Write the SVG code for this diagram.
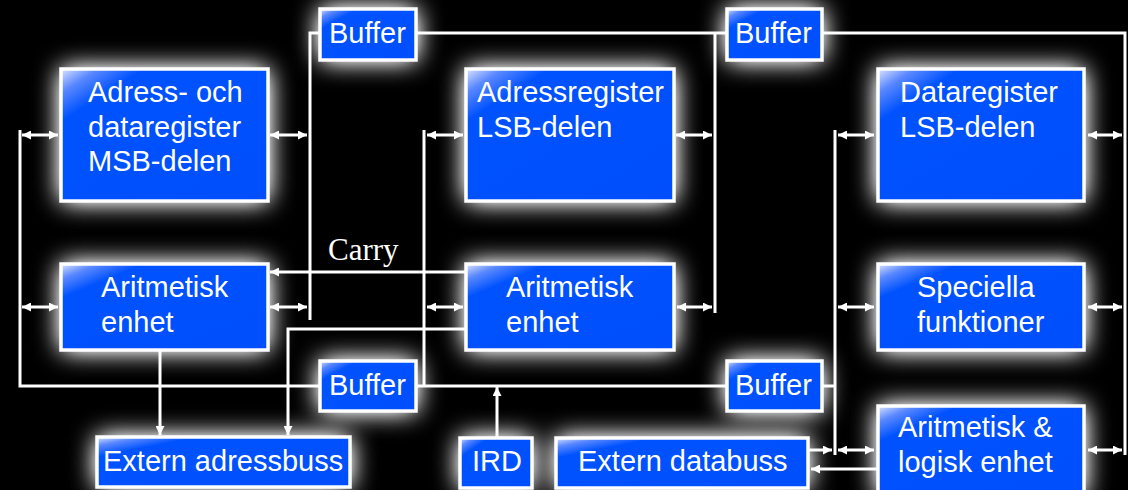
<svg xmlns="http://www.w3.org/2000/svg" width="1128" height="490" viewBox="0 0 1128 490">
  <defs>
    <filter id="glow" x="-60%" y="-100%" width="220%" height="300%">
      <feGaussianBlur stdDeviation="13"/>
      <feComponentTransfer>
        <feFuncA type="linear" slope="1.5"/>
      </feComponentTransfer>
    </filter>
    <linearGradient id="blue" x1="0" y1="0" x2="1" y2="1">
      <stop offset="0" stop-color="#dfe6ff"/>
      <stop offset="0.09" stop-color="#5a88ff"/>
      <stop offset="0.2" stop-color="#0052ff"/>
      <stop offset="1" stop-color="#004efc"/>
    </linearGradient>
    <marker id="ah" viewBox="0 0 9 9" refX="9" refY="4.5" markerWidth="9" markerHeight="9" markerUnits="userSpaceOnUse" orient="auto-start-reverse">
      <path d="M0,0 L9,4.5 L0,9 z" fill="#fff"/>
    </marker>
  </defs>
  <style>
    .glow { fill: #fff; filter: url(#glow); }
    .box { fill: url(#blue); stroke: #fff; stroke-width: 3.5; }
    .t { font-family: "Liberation Sans", Arial, sans-serif; font-size: 29px; fill: #fff; }
    .c { fill: none; stroke: #fff; stroke-width: 3; }
    .d { fill: none; stroke: #fff; stroke-width: 3; marker-start: url(#ah); marker-end: url(#ah); }
    .s { fill: none; stroke: #fff; stroke-width: 3; marker-end: url(#ah); }
    .carry { font-family: "Liberation Serif", "Times New Roman", serif; font-size: 31px; fill: #fff; }
  </style>
  <rect width="1128" height="490" fill="#000"/>

  <g id="glows">
    <rect class="glow" x="61" y="69" width="207" height="132"/>
    <rect class="glow" x="466" y="69" width="208" height="132"/>
    <rect class="glow" x="878" y="69" width="206" height="132"/>
    <rect class="glow" x="61" y="264" width="207" height="86"/>
    <rect class="glow" x="466" y="264" width="208" height="86"/>
    <rect class="glow" x="878" y="264" width="206" height="86"/>
    <rect class="glow" x="878" y="406" width="206" height="90"/>
    <rect class="glow" x="320" y="9" width="96" height="51"/>
    <rect class="glow" x="727" y="9" width="95" height="51"/>
    <rect class="glow" x="320" y="361" width="96" height="50"/>
    <rect class="glow" x="727" y="361" width="95" height="50"/>
    <rect class="glow" x="97" y="437" width="253" height="50"/>
    <rect class="glow" x="460" y="438" width="72" height="50"/>
    <rect class="glow" x="556" y="438" width="252" height="50"/>
  </g>

  <g id="connectors">
    <path class="c" d="M310,320 V33 H320"/>
    <path class="c" d="M417,33 H727"/>
    <path class="c" d="M715,33 V313"/>
    <path class="c" d="M823,33 H1125 V455"/>
    <path class="c" d="M20,130 V386 H320"/>
    <path class="c" d="M417,386 H727"/>
    <path class="c" d="M424,130 V386"/>
    <path class="c" d="M823,386 H835"/>
    <path class="c" d="M835,130 V455"/>
    <path class="s" d="M466,272 H270"/>
    <path class="s" d="M466,329 H288 V435"/>
    <path class="s" d="M160,351 V435"/>
    <path class="s" d="M497,437 V387"/>
    <path class="s" d="M809,450 H832"/>
    <path class="s" d="M878,469 H811"/>
    <path class="d" d="M22,135 H58"/>
    <path class="d" d="M270,135 H307"/>
    <path class="d" d="M427,135 H463"/>
    <path class="d" d="M676,135 H712"/>
    <path class="d" d="M838,135 H874"/>
    <path class="d" d="M1088,135 H1122"/>
    <path class="d" d="M22,307 H58"/>
    <path class="d" d="M270,307 H307"/>
    <path class="d" d="M427,307 H463"/>
    <path class="d" d="M677,307 H712"/>
    <path class="d" d="M838,307 H874"/>
    <path class="d" d="M1088,307 H1122"/>
    <path class="d" d="M838,450 H874"/>
    <path class="d" d="M1088,450 H1122"/>
    <text class="carry" x="328" y="260">Carry</text>
  </g>

  <g id="msb">
    <rect class="box" x="61" y="69" width="207" height="132"/>
    <text class="t" x="88" y="102">Adress- och</text>
    <text class="t" x="88" y="137">dataregister</text>
    <text class="t" x="88" y="171">MSB-delen</text>
  </g>
  <g id="adrlsb">
    <rect class="box" x="466" y="69" width="208" height="132"/>
    <text class="t" x="477" y="102">Adressregister</text>
    <text class="t" x="477" y="137">LSB-delen</text>
  </g>
  <g id="datalsb">
    <rect class="box" x="878" y="69" width="206" height="132"/>
    <text class="t" x="900" y="102">Dataregister</text>
    <text class="t" x="900" y="137">LSB-delen</text>
  </g>
  <g id="alu1">
    <rect class="box" x="61" y="264" width="207" height="86"/>
    <text class="t" x="101" y="297">Aritmetisk</text>
    <text class="t" x="101" y="332">enhet</text>
  </g>
  <g id="alu2">
    <rect class="box" x="466" y="264" width="208" height="86"/>
    <text class="t" x="506" y="297">Aritmetisk</text>
    <text class="t" x="506" y="332">enhet</text>
  </g>
  <g id="spec">
    <rect class="box" x="878" y="264" width="206" height="86"/>
    <text class="t" x="917" y="297">Speciella</text>
    <text class="t" x="917" y="332">funktioner</text>
  </g>
  <g id="alu3">
    <rect class="box" x="878" y="406" width="206" height="90"/>
    <text class="t" x="898" y="437">Aritmetisk &amp;</text>
    <text class="t" x="898" y="472">logisk enhet</text>
  </g>
  <g id="buf1">
    <rect class="box" x="320" y="9" width="96" height="51"/>
    <text class="t" x="329" y="43">Buffer</text>
  </g>
  <g id="buf2">
    <rect class="box" x="727" y="9" width="95" height="51"/>
    <text class="t" x="735" y="43">Buffer</text>
  </g>
  <g id="buf3">
    <rect class="box" x="320" y="361" width="96" height="50"/>
    <text class="t" x="329" y="395">Buffer</text>
  </g>
  <g id="buf4">
    <rect class="box" x="727" y="361" width="95" height="50"/>
    <text class="t" x="735" y="395">Buffer</text>
  </g>
  <g id="extadr">
    <rect class="box" x="97" y="437" width="253" height="50"/>
    <text class="t" x="103" y="471">Extern adressbuss</text>
  </g>
  <g id="ird">
    <rect class="box" x="460" y="438" width="72" height="50"/>
    <text class="t" x="472" y="471">IRD</text>
  </g>
  <g id="extdata">
    <rect class="box" x="556" y="438" width="252" height="50"/>
    <text class="t" x="578" y="471">Extern databuss</text>
  </g>
</svg>
